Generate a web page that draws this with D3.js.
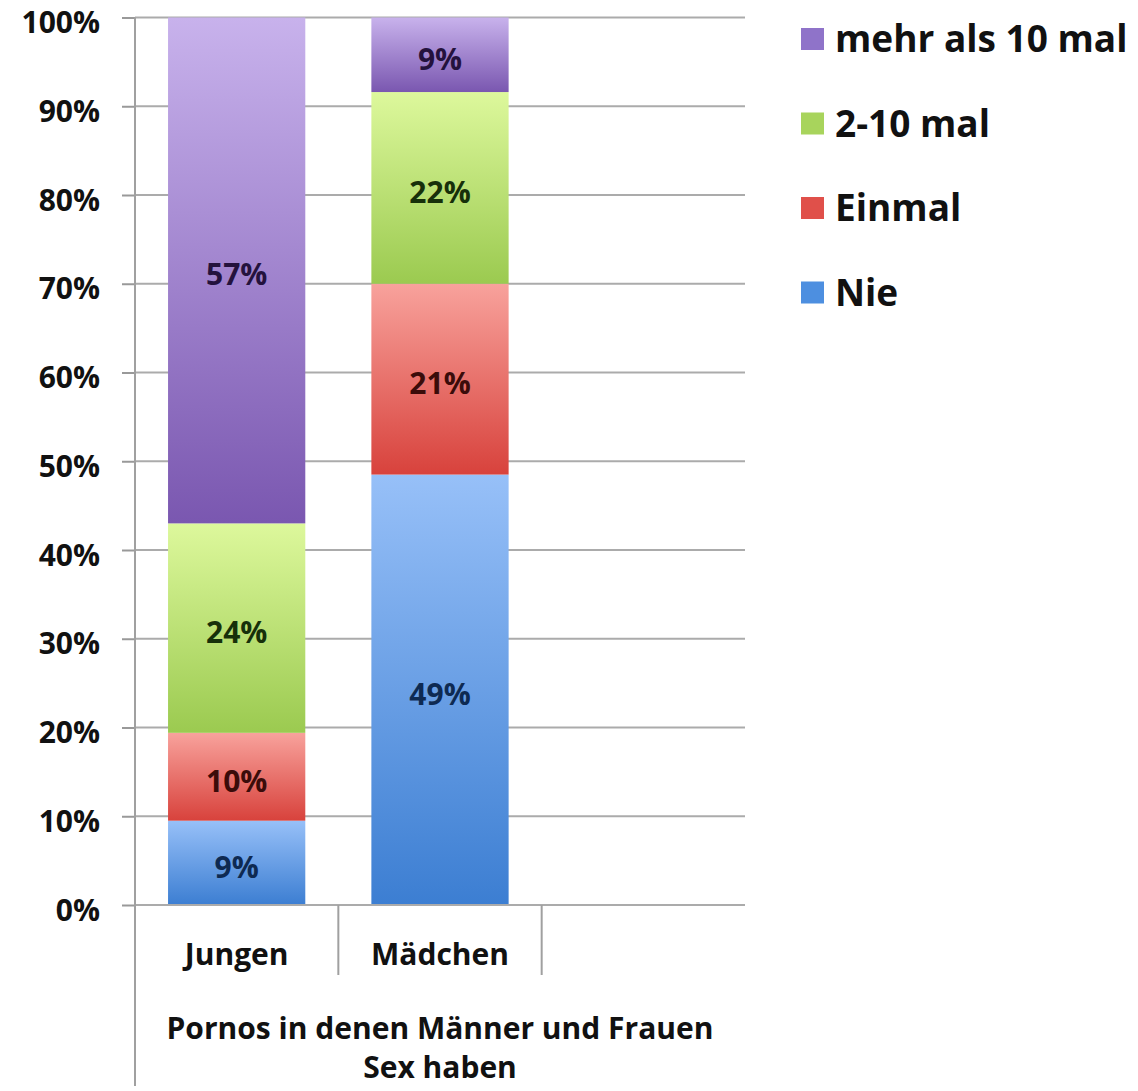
<!DOCTYPE html>
<html><head><meta charset="utf-8">
<script src="https://cdn.jsdelivr.net/npm/d3@7"></script>
<style>body{margin:0;background:#fff}svg{display:block}text{font-family:"Open Sans",Lato,sans-serif;font-weight:700}</style>
</head><body>
<svg id="c" width="1138" height="1091"></svg>
<script>
const categories = ["Jungen", "Mädchen", ""];
const seriesNames = ["Nie", "Einmal", "2-10 mal", "mehr als 10 mal"];
const nie = [9.5, 48.5, null];
const einmal = [9.9, 21.5, null];
const zweiBisZehn = [23.6, 21.6, null];
const mehrAls10 = [57.0, 8.4, null];
const labelNie = ["9%", "49%", ""];
const labelEinmal = ["10%", "21%", ""];
const labelZwei = ["24%", "22%", ""];
const labelMehr = ["57%", "9%", ""];
const yTicks = [0,10,20,30,40,50,60,70,80,90,100];
const axisTitle = ["Pornos in denen Männer und Frauen", "Sex haben"];

const svg = d3.select("#c");
const x0 = 135, x1 = 745, yB = 905, yT = 17.5;
const x = d3.scaleBand().domain(categories).range([x0, x1]).padding(0);
const y = d3.scaleLinear().domain([0, 100]).range([yB, yT]);
const barW = x.bandwidth() * 0.675;

const grads = [
  {id:"g0", top:"#97c0f8", bot:"#3c7ed2", txt:"#0e2a52", leg:"#4d8fe0"},
  {id:"g1", top:"#f8a29c", bot:"#d8423c", txt:"#3b0c0a", leg:"#e0504a"},
  {id:"g2", top:"#ddf89c", bot:"#9bca50", txt:"#17300a", leg:"#a8d45c"},
  {id:"g3", top:"#c8b2ec", bot:"#7a57b0", txt:"#24123d", leg:"#8f73c9"}
];
const defs = svg.append("defs");
grads.forEach(g => {
  const lg = defs.append("linearGradient").attr("id", g.id).attr("x1",0).attr("y1",0).attr("x2",0).attr("y2",1);
  lg.append("stop").attr("offset","0%").attr("stop-color", g.top);
  lg.append("stop").attr("offset","100%").attr("stop-color", g.bot);
});

// gridlines
svg.append("g").selectAll("line").data(yTicks.slice(1)).join("line")
  .attr("x1", x0).attr("x2", x1).attr("y1", d => y(d)).attr("y2", d => y(d))
  .attr("stroke", "#ababab").attr("stroke-width", 2);

// y axis
const yAxis = d3.axisLeft(y).tickValues(yTicks).tickFormat(d => d + "%").tickSize(13).tickPadding(22);
const ga = svg.append("g").attr("transform", `translate(${x0},0)`).call(yAxis);
ga.select(".domain").remove();
ga.selectAll(".tick line").attr("stroke", "#999").attr("stroke-width", 2);
ga.selectAll(".tick text").attr("font-size", 30).attr("fill", "#111")
  .attr("font-family", "'Open Sans'").attr("font-weight", 700).attr("dy", "0.5em");

// stacked data
const rows = categories.map((c, i) => ({cat: c, "Nie": nie[i] || 0, "Einmal": einmal[i] || 0, "2-10 mal": zweiBisZehn[i] || 0, "mehr als 10 mal": mehrAls10[i] || 0}));
const labels = [labelNie, labelEinmal, labelZwei, labelMehr];
const stacked = d3.stack().keys(seriesNames)(rows);

stacked.forEach((s, si) => {
  const g = svg.append("g");
  g.selectAll("rect").data(s.filter(d => d[1] > d[0])).join("rect")
    .attr("x", d => x(d.data.cat) + (x.bandwidth() - barW) / 2)
    .attr("width", barW)
    .attr("y", d => y(d[1]))
    .attr("height", d => y(d[0]) - y(d[1]))
    .attr("fill", `url(#${grads[si].id})`);
  g.selectAll("text").data(s.map((d, i) => ({d, i})).filter(o => o.d[1] > o.d[0])).join("text")
    .attr("x", o => x(o.d.data.cat) + x.bandwidth() / 2)
    .attr("y", o => (y(o.d[0]) + y(o.d[1])) / 2)
    .attr("dy", "0.5em")
    .attr("text-anchor", "middle")
    .attr("font-size", 30)
    .attr("fill", grads[si].txt)
    .text(o => labels[si][o.i]);
});

// x axis baseline
svg.append("line").attr("x1", x0).attr("x2", x1).attr("y1", yB).attr("y2", yB).attr("stroke", "#ababab").attr("stroke-width", 2);
// y axis line
svg.append("line").attr("x1", x0).attr("x2", x0).attr("y1", yT).attr("y2", 1086).attr("stroke", "#a0a0a0").attr("stroke-width", 2);
// category separators
svg.append("g").selectAll("line").data(categories.slice(1)).join("line")
  .attr("x1", d => x(d)).attr("x2", d => x(d)).attr("y1", yB).attr("y2", 975)
  .attr("stroke", "#a0a0a0").attr("stroke-width", 2);
// category labels
svg.append("g").selectAll("text").data(categories).join("text")
  .attr("x", d => x(d) + x.bandwidth() / 2).attr("y", 965)
  .attr("text-anchor", "middle").attr("font-size", 30).attr("fill", "#111").text(d => d);
// axis title
svg.append("g").selectAll("text").data(axisTitle).join("text")
  .attr("x", (x0 + x1) / 2).attr("y", (d, i) => 1039 + i * 39)
  .attr("text-anchor", "middle").attr("font-size", 30).attr("fill", "#111").text(d => d);

// legend
const legOrder = [3, 2, 1, 0];
const lg = svg.append("g").selectAll("g").data(legOrder).join("g")
  .attr("transform", (d, i) => `translate(801,${39 + i * 84.5})`);
lg.append("rect").attr("x", 0).attr("y", -11).attr("width", 23).attr("height", 22).attr("fill", d => grads[d].leg);
lg.append("text").attr("x", 34).attr("y", 0).attr("dy", "0.36em").attr("font-size", 37).attr("fill", "#111").text(d => seriesNames[d]);
</script>
</body></html>
